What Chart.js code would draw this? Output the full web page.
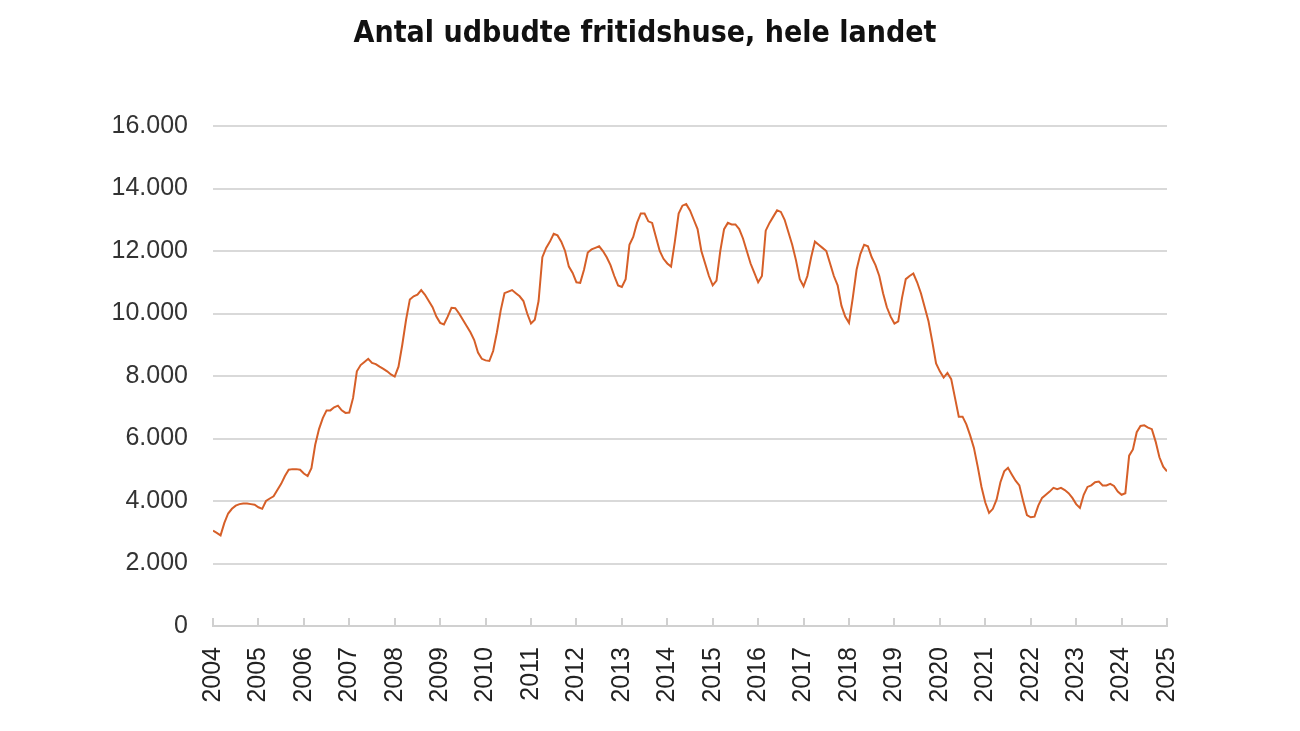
<!DOCTYPE html>
<html>
<head>
<meta charset="utf-8">
<script src="https://cdn.jsdelivr.net/npm/chart.js@4.4.1/dist/chart.umd.min.js"></script>
<style>
  html, body { margin: 0; padding: 0; background: #fff; }
  #wrap { width: 1300px; height: 731px; }
</style>
</head>
<body>
<div id="wrap"><canvas id="fritid" width="1300" height="731"></canvas></div>
<script>
// monthly series, Jan 2004 .. Jan 2025
const startYear = 2004;
const yearLabels = ['2004', '2005', '2006', '2007', '2008', '2009', '2010', '2011', '2012', '2013', '2014',
    '2015', '2016', '2017', '2018', '2019', '2020', '2021', '2022', '2023', '2024', '2025'];
const udbudte = [
    3050, 2980, 2900, 3300, 3600, 3750, 3850, 3900, 3920, 3920, 3900, 3880,       // 2004
    3800, 3750, 4000, 4080, 4150, 4350, 4550, 4800, 5000, 5020, 5020, 5000,       // 2005
    4880, 4800, 5050, 5800, 6300, 6650, 6900, 6900, 7000, 7050, 6900, 6820,       // 2006
    6830, 7300, 8150, 8350, 8450, 8550, 8420, 8380, 8300, 8230, 8150, 8050,       // 2007
    7980, 8300, 9000, 9800, 10450, 10550, 10600, 10750, 10600, 10400, 10200, 9900, // 2008
    9700, 9650, 9900, 10180, 10170, 10000, 9800, 9600, 9400, 9150, 8750, 8550,    // 2009
    8500, 8480, 8800, 9400, 10100, 10650, 10700, 10750, 10650, 10550, 10400, 10000, // 2010
    9680, 9800, 10400, 11800, 12100, 12300, 12550, 12500, 12300, 12000, 11500, 11300, // 2011
    11000, 10980, 11400, 11950, 12050, 12100, 12150, 12000, 11800, 11550, 11200, 10900, // 2012
    10850, 11100, 12200, 12450, 12900, 13200, 13200, 12950, 12900, 12450, 12000, 11750, // 2013
    11600, 11500, 12300, 13200, 13450, 13500, 13300, 13000, 12700, 12000, 11600, 11200, // 2014
    10900, 11050, 12000, 12700, 12900, 12850, 12850, 12700, 12400, 12000, 11600, 11300, // 2015
    11000, 11200, 12650, 12900, 13100, 13300, 13250, 13000, 12600, 12200, 11700, 11100, // 2016
    10870, 11200, 11800, 12300, 12200, 12100, 12000, 11600, 11200, 10900, 10250, 9900, // 2017
    9700, 10500, 11400, 11900, 12200, 12150, 11800, 11550, 11200, 10650, 10200, 9900, // 2018
    9680, 9750, 10500, 11100, 11200, 11280, 11000, 10650, 10200, 9750, 9100, 8400, // 2019
    8150, 7950, 8100, 7900, 7300, 6700, 6700, 6450, 6100, 5700, 5100, 4450,       // 2020
    3950, 3620, 3750, 4050, 4600, 4950, 5060, 4850, 4650, 4500, 4000, 3550,       // 2021
    3480, 3500, 3850, 4100, 4200, 4300, 4420, 4380, 4420, 4350, 4250, 4100,       // 2022
    3900, 3780, 4200, 4450, 4500, 4600, 4620, 4500, 4500, 4550, 4480, 4300,       // 2023
    4200, 4250, 5450, 5650, 6200, 6400, 6420, 6350, 6300, 5900, 5400, 5100,       // 2024
    4950                                                                          // 2025
];

const tusind = v => String(v).replace(/\B(?=(\d{3})+(?!\d))/g, '.');

new Chart(document.getElementById('fritid').getContext('2d'), {
    type: 'line',
    data: {
        datasets: [{
            data: udbudte.map((v, i) => ({ x: startYear + i / 12, y: v })),
            borderColor: '#d65f28',
            borderWidth: 2,
            pointRadius: 0,
            tension: 0,
            fill: false
        }]
    },
    options: {
        responsive: false,
        animation: false,
        layout: { padding: { left: 0, right: 10, top: 0, bottom: 0 } },
        plugins: {
            legend: { display: false },
            tooltip: { enabled: false },
            title: {
                display: true,
                text: 'Antal udbudte fritidshuse, hele landet',
                color: '#111',
                font: { family: "'DejaVu Sans Condensed', 'DejaVu Sans', sans-serif", size: 30, weight: 'bold' },
                padding: { top: 16, bottom: 74 }
            }
        },
        scales: {
            x: {
                type: 'linear',
                min: startYear,
                max: startYear + yearLabels.length - 1,
                afterFit: s => { s.height = 105; },
                grid: { drawOnChartArea: false, color: '#d0d0d0', lineWidth: 2, tickLength: -8 },
                border: { color: '#d0d0d0', width: 2 },
                ticks: {
                    stepSize: 1,
                    autoSkip: false,
                    minRotation: 90,
                    maxRotation: 90,
                    padding: 29,
                    color: '#222',
                    font: { family: 'Liberation Sans', size: 25 },
                    callback: v => yearLabels[v - startYear]
                }
            },
            y: {
                min: 0,
                max: 16000,
                afterFit: s => { s.width = 213; },
                grid: { color: '#d9d9d9', lineWidth: 2, drawTicks: false },
                border: { display: false },
                ticks: {
                    stepSize: 2000,
                    padding: 25,
                    color: '#333',
                    font: { family: 'Liberation Sans', size: 25 },
                    callback: v => tusind(v)
                }
            },
            // empty right margin so the title centres like the original
            margin: {
                position: 'right',
                min: 0,
                max: 1,
                afterFit: s => { s.width = 123; },
                grid: { drawOnChartArea: false, drawTicks: false },
                border: { display: false },
                ticks: { display: false }
            }
        }
    }
});
</script>
</body>
</html>
